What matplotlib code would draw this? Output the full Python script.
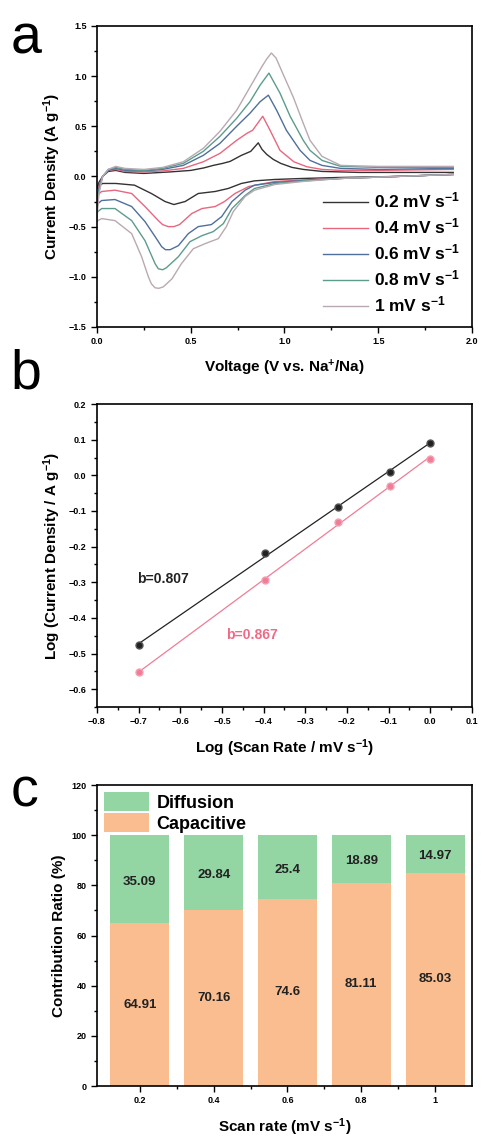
import numpy as np
import matplotlib.pyplot as plt
from matplotlib.ticker import MultipleLocator, AutoMinorLocator

plt.rcParams['font.family'] = ['Liberation Sans', 'DejaVu Sans']
plt.rcParams['font.weight'] = 'bold'
plt.rcParams['axes.labelweight'] = 'bold'
plt.rcParams['mathtext.default'] = 'regular'

# ---- panel a: CV curves ----
rates = ['0.2', '0.4', '0.6', '0.8', '1']
cv_colors = ['#333333', '#e8677f', '#4f6f9c', '#5c9c8c', '#b9a9b2']

an_v_02 = [0.0, 0.01, 0.03, 0.06, 0.1, 0.15, 0.25, 0.39, 0.5, 0.57, 0.62, 0.67, 0.71, 0.77, 0.82, 0.86, 0.88, 0.905, 0.94, 0.98, 1.04, 1.1, 1.2, 1.4, 1.6, 1.9]
an_i_02 = [-0.12, -0.06, 0.0, 0.05, 0.06, 0.04, 0.03, 0.045, 0.06, 0.085, 0.11, 0.13, 0.15, 0.21, 0.25, 0.335, 0.27, 0.22, 0.17, 0.13, 0.09, 0.07, 0.05, 0.04, 0.04, 0.04]
ca_v_02 = [1.9, 1.6, 1.3, 1.1, 0.95, 0.84, 0.77, 0.70, 0.63, 0.54, 0.47, 0.41, 0.363, 0.29, 0.2, 0.1, 0.03, 0.005, 0.0]
ca_i_02 = [0.02, 0.0, -0.01, -0.02, -0.03, -0.044, -0.07, -0.12, -0.15, -0.17, -0.25, -0.28, -0.25, -0.17, -0.087, -0.07, -0.07, -0.1, -0.12]

an_v_04 = [0.0, 0.01, 0.03, 0.06, 0.1, 0.15, 0.25, 0.35, 0.46, 0.567, 0.656, 0.745, 0.80, 0.83, 0.884, 0.923, 0.976, 1.05, 1.12, 1.2, 1.3, 1.5, 1.9]
an_i_04 = [-0.2, -0.1, 0.0, 0.06, 0.07, 0.05, 0.045, 0.055, 0.08, 0.146, 0.23, 0.36, 0.43, 0.46, 0.60, 0.46, 0.26, 0.146, 0.096, 0.07, 0.06, 0.06, 0.07]
ca_v_04 = [1.9, 1.6, 1.3, 1.1, 0.95, 0.81, 0.736, 0.68, 0.63, 0.56, 0.505, 0.44, 0.41, 0.38, 0.35, 0.327, 0.256, 0.185, 0.096, 0.025, 0.005, 0.0]
ca_i_04 = [0.02, 0.0, -0.02, -0.035, -0.05, -0.10, -0.17, -0.25, -0.30, -0.32, -0.37, -0.48, -0.50, -0.50, -0.48, -0.44, -0.30, -0.17, -0.137, -0.15, -0.18, -0.2]

an_v_06 = [0.0, 0.01, 0.03, 0.06, 0.1, 0.15, 0.25, 0.35, 0.46, 0.567, 0.656, 0.745, 0.816, 0.87, 0.914, 0.958, 1.01, 1.083, 1.136, 1.2, 1.3, 1.5, 1.9]
an_i_06 = [-0.26, -0.12, 0.0, 0.06, 0.08, 0.06, 0.055, 0.07, 0.11, 0.21, 0.33, 0.50, 0.63, 0.745, 0.81, 0.66, 0.46, 0.26, 0.16, 0.11, 0.08, 0.07, 0.08]
ca_v_06 = [1.9, 1.6, 1.3, 1.1, 0.95, 0.84, 0.79, 0.72, 0.665, 0.61, 0.54, 0.487, 0.434, 0.39, 0.365, 0.345, 0.31, 0.256, 0.185, 0.096, 0.025, 0.005, 0.0]
ca_i_06 = [0.02, 0.0, -0.02, -0.04, -0.06, -0.087, -0.137, -0.25, -0.40, -0.48, -0.50, -0.57, -0.69, -0.73, -0.73, -0.70, -0.60, -0.45, -0.30, -0.23, -0.24, -0.27, -0.28]

an_v_08 = [0.0, 0.01, 0.03, 0.06, 0.1, 0.15, 0.25, 0.35, 0.46, 0.567, 0.656, 0.745, 0.816, 0.87, 0.917, 0.976, 1.03, 1.10, 1.136, 1.2, 1.3, 1.5, 1.9]
an_i_08 = [-0.34, -0.15, 0.0, 0.07, 0.09, 0.07, 0.06, 0.08, 0.13, 0.25, 0.40, 0.58, 0.745, 0.91, 1.03, 0.83, 0.60, 0.36, 0.26, 0.16, 0.1, 0.09, 0.09]
ca_v_08 = [1.9, 1.6, 1.3, 1.1, 0.95, 0.84, 0.79, 0.72, 0.674, 0.62, 0.56, 0.496, 0.434, 0.37, 0.35, 0.327, 0.31, 0.256, 0.185, 0.096, 0.025, 0.005, 0.0]
ca_i_08 = [0.02, 0.0, -0.02, -0.045, -0.07, -0.12, -0.19, -0.32, -0.47, -0.55, -0.59, -0.65, -0.80, -0.91, -0.93, -0.92, -0.87, -0.64, -0.44, -0.32, -0.32, -0.35, -0.36]

an_v_10 = [0.0, 0.01, 0.03, 0.06, 0.1, 0.15, 0.25, 0.35, 0.46, 0.567, 0.656, 0.745, 0.816, 0.878, 0.905, 0.93, 0.955, 0.99, 1.047, 1.10, 1.136, 1.2, 1.3, 1.5, 1.9]
an_i_10 = [-0.42, -0.18, 0.0, 0.07, 0.1, 0.08, 0.07, 0.09, 0.146, 0.28, 0.45, 0.66, 0.89, 1.09, 1.17, 1.23, 1.18, 1.03, 0.79, 0.53, 0.36, 0.2, 0.11, 0.1, 0.1]
ca_v_10 = [1.9, 1.6, 1.3, 1.1, 0.95, 0.84, 0.79, 0.727, 0.69, 0.647, 0.576, 0.514, 0.45, 0.40, 0.354, 0.33, 0.31, 0.29, 0.274, 0.238, 0.185, 0.096, 0.025, 0.005, 0.0]
ca_i_10 = [0.02, 0.0, -0.02, -0.05, -0.08, -0.137, -0.20, -0.35, -0.50, -0.62, -0.67, -0.72, -0.87, -1.02, -1.10, -1.115, -1.11, -1.07, -1.0, -0.80, -0.57, -0.44, -0.42, -0.44, -0.45]

cv_data = [
    (ca_v_02, ca_i_02, an_v_02, an_i_02),
    (ca_v_04, ca_i_04, an_v_04, an_i_04),
    (ca_v_06, ca_i_06, an_v_06, an_i_06),
    (ca_v_08, ca_i_08, an_v_08, an_i_08),
    (ca_v_10, ca_i_10, an_v_10, an_i_10),
]

# ---- panel b: log-log ----
scan_rates = np.array([0.2, 0.4, 0.6, 0.8, 1.0])
log_i_black = [-0.477, -0.218, -0.088, 0.009, 0.091]
log_i_red = [-0.553, -0.293, -0.130, -0.029, 0.046]

# ---- panel c: contributions ----
rate_labels = ['0.2', '0.4', '0.6', '0.8', '1']
capacitive = [64.91, 70.16, 74.6, 81.11, 85.03]
diffusion = [35.09, 29.84, 25.4, 18.89, 14.97]

fig = plt.figure(figsize=(4.84, 11.42), dpi=100)

tick_fs = 6.5
label_fs = 11


def style_axes(ax):
    ax.tick_params(which='both', direction='out', top=False, right=False, labelsize=tick_fs, width=1.0)
    ax.tick_params(which='major', length=4)
    ax.tick_params(which='minor', length=2.5)
    for s in ax.spines.values():
        s.set_linewidth(1.2)
    for lab in ax.get_xticklabels() + ax.get_yticklabels():
        lab.set_fontweight('bold')


# panel a
ax1 = fig.add_axes([0.2004, 0.7137, 0.7748, 0.2636])
for (cv, ci, av, ai), col, r in zip(cv_data, cv_colors, rates):
    v = list(cv) + list(av)
    i = list(ci) + list(ai)
    ax1.plot(v, i, color=col, lw=1.0, label=r + ' mV s$^{-1}$')
ax1.set_xlim(0, 2.0)
ax1.set_ylim(-1.5, 1.5)
ax1.xaxis.set_major_locator(MultipleLocator(0.5))
ax1.xaxis.set_minor_locator(AutoMinorLocator(2))
ax1.yaxis.set_major_locator(MultipleLocator(0.5))
ax1.yaxis.set_minor_locator(AutoMinorLocator(2))
ax1.set_xlabel('Voltage (V vs. Na$^{+}$/Na)', fontsize=label_fs, labelpad=8)
ax1.set_ylabel('Current Density (A g$^{-1}$)', fontsize=label_fs, labelpad=4)
style_axes(ax1)
ax1.legend(loc='lower right', frameon=False, handlelength=2.6,
           labelspacing=0.35, borderaxespad=0.3, handletextpad=0.3,
           prop={'weight': 'bold', 'size': 12.5})

# panel b
ax2 = fig.add_axes([0.2004, 0.3809, 0.7748, 0.2653])
log_rate = np.log10(scan_rates)
for y, col, mec in [(log_i_black, '#222222', '#555555'), (log_i_red, '#ef7d95', '#f3a0b2')]:
    k, c0 = np.polyfit(log_rate, y, 1)
    ax2.plot(log_rate, k * log_rate + c0, color=col, lw=0.9)
    ax2.plot(log_rate, y, 'o', color=col, mec=mec, ms=5)
ax2.text(-0.705, -0.292, 'b=0.807', fontsize=10, fontweight='bold', color='#222222', va='center')
ax2.text(-0.49, -0.447, 'b=0.867', fontsize=10, fontweight='bold', color='#ef6a85', va='center')
ax2.set_xlim(-0.8, 0.1)
ax2.set_ylim(-0.65, 0.2)
ax2.xaxis.set_major_locator(MultipleLocator(0.1))
ax2.xaxis.set_minor_locator(AutoMinorLocator(2))
ax2.yaxis.set_major_locator(MultipleLocator(0.1))
ax2.yaxis.set_minor_locator(AutoMinorLocator(2))
ax2.set_xlabel('Log (Scan Rate / mV s$^{-1}$)', fontsize=label_fs, labelpad=8)
ax2.set_ylabel('Log (Current Density / A g$^{-1}$)', fontsize=label_fs, labelpad=4)
style_axes(ax2)

# panel c
ax3 = fig.add_axes([0.2004, 0.0490, 0.7748, 0.2636])
xpos = np.arange(len(rate_labels))
cap_col = '#f9bd8f'
dif_col = '#93d6a3'
ax3.bar(xpos, capacitive, width=0.8, color=cap_col, label='Capacitive')
ax3.bar(xpos, diffusion, width=0.8, bottom=capacitive, color=dif_col, label='Diffusion')
for x, c, d in zip(xpos, capacitive, diffusion):
    ax3.text(x, c / 2, f'{c:g}', ha='center', va='center', fontsize=9.5, fontweight='bold', color='#222222')
    ax3.text(x, c + d / 2 - 1, f'{d:g}', ha='center', va='center', fontsize=9.5, fontweight='bold', color='#222222')
ax3.set_xlim(-0.58, 4.5)
ax3.set_ylim(0, 120)
ax3.set_xticks(xpos)
ax3.set_xticklabels(rate_labels)
ax3.set_xticks(xpos[:-1] + 0.5, minor=True)
ax3.yaxis.set_major_locator(MultipleLocator(20))
ax3.yaxis.set_minor_locator(AutoMinorLocator(2))
ax3.set_xlabel('Scan rate (mV s$^{-1}$)', fontsize=label_fs, labelpad=8)
ax3.set_ylabel('Contribution Ratio (%)', fontsize=label_fs, labelpad=4)
style_axes(ax3)
h, l = ax3.get_legend_handles_labels()
ax3.legend(h[::-1], l[::-1], loc='upper left', frameon=False, handlelength=2.5,
           handleheight=1.2, labelspacing=0.1, borderaxespad=0.2, handletextpad=0.4,
           borderpad=0.2, prop={'weight': 'bold', 'size': 13})

# panel letters
for lab, y in [('a', 0.988), ('b', 0.695), ('c', 0.329)]:
    fig.text(0.022, y, lab, fontsize=40, fontweight='normal', va='top', ha='left')

fig.savefig('out.png', dpi=100)
